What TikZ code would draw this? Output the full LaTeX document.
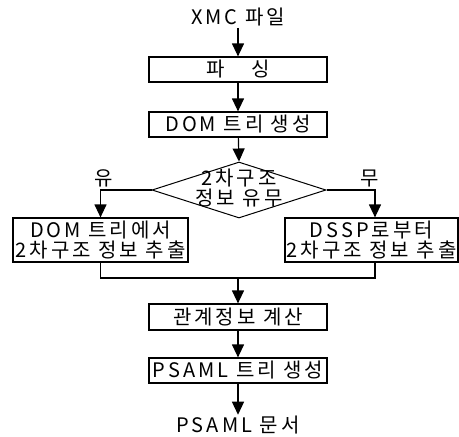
\documentclass[tikz,border=0pt]{standalone}
\usepackage{fontspec}
\newfontfamily\kr{Noto Sans CJK KR}[LetterSpace=15]
\usetikzlibrary{shapes.geometric,arrows.meta}
\begin{document}
\begin{tikzpicture}[x=1pt,y=-1pt,
  every node/.style={font=\kr\fontsize{20}{20}\selectfont,inner sep=1pt},
  box/.style={draw,line width=1.2pt,inner sep=0pt,align=center},
  arr/.style={line width=1.2pt,-{Triangle[width=12pt,length=13pt]}},
  ln/.style={line width=1.2pt}]
\useasboundingbox (0,0) rectangle (459,437);
\node (xmc) at (238,17.5) {XMC 파일};
\node[box,minimum width=178pt,minimum height=25pt] (parse) at (238,69.5) {파\hspace{26pt}싱};
\node[box,minimum width=178pt,minimum height=25pt] (dom) at (238,124.5) {DOM 트리 생성};
\node[diamond,draw,line width=1pt,minimum width=174pt,minimum height=56pt,inner sep=0pt] (dec) at (239,190) {};
\node[align=center] (dectext) at (239,188) {2차구조\\정보 유무};
\node[box,minimum width=175pt,minimum height=44pt] (lbox) at (100.5,240) {DOM 트리에서\\2차구조 정보 추출};
\node[box,minimum width=173pt,minimum height=44pt] (rbox) at (371.5,240) {DSSP로부터\\2차구조 정보 추출};
\node (yu) at (104,178) {유};
\node (mu) at (370,178) {무};
\coordinate (j) at (238,278);
\node[box,minimum width=178pt,minimum height=26pt] (calc) at (238,317) {관계정보 계산};
\node[box,minimum width=178pt,minimum height=25pt] (psaml) at (238,370.5) {PSAML 트리 생성};
\node (doc) at (238,425) {PSAML 문서};
\draw[arr] (xmc) -- (parse);
\draw[arr] (parse) -- (dom);
\draw[arr] (dom) -- (dec.north);
\draw[arr] (dec.west) -| (lbox.north);
\draw[arr] (dec.east) -| ([xshift=3.5pt]rbox.north);
\draw[ln] (lbox.south) |- (j) -| ([xshift=3.5pt]rbox.south);
\draw[arr] (j) -- (calc);
\draw[arr] (calc) -- (psaml);
\draw[arr] (psaml) -- (doc);
\end{tikzpicture}
\end{document}
